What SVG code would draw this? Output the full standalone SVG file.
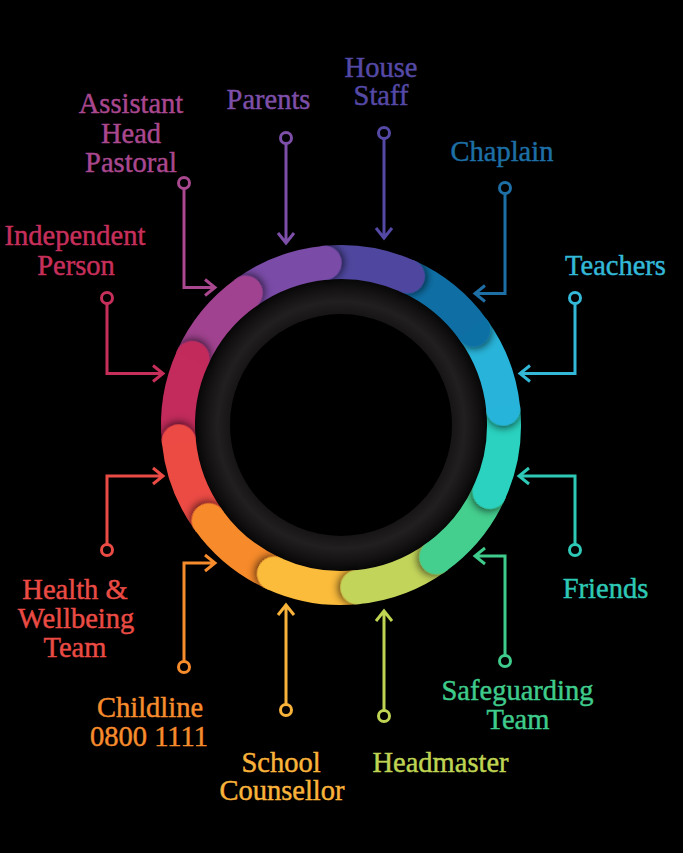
<svg xmlns="http://www.w3.org/2000/svg" xmlns:xlink="http://www.w3.org/1999/xlink" width="683" height="853" viewBox="0 0 683 853">
<style>
text { font-family: "Liberation Serif", "Times New Roman", serif; font-size: 28.5px; text-anchor: middle; stroke-width: 0.45px; }
.conn path { fill: none; stroke-width: 3; stroke-linejoin: miter; }
.band { fill: none; stroke-width: 34; }
.k1 { fill: #5549a6; stroke: #5549a6; }
.k2 { fill: #1d6fa6; stroke: #1d6fa6; }
.k3 { fill: #33b8d8; stroke: #33b8d8; }
.k4 { fill: #2ec9b6; stroke: #2ec9b6; }
.k5 { fill: #3fcb8b; stroke: #3fcb8b; }
.k6 { fill: #bfd452; stroke: #bfd452; }
.k7 { fill: #f9b33a; stroke: #f9b33a; }
.k8 { fill: #f78c2d; stroke: #f78c2d; }
.k9 { fill: #ea4b45; stroke: #ea4b45; }
.k10 { fill: #c72f5b; stroke: #c72f5b; }
.k11 { fill: #a9478f; stroke: #a9478f; }
.k12 { fill: #7d4fa8; stroke: #7d4fa8; }
.conn circle { fill: #000 !important; stroke-width: 3; }
.conn path { fill: none !important; }
</style>
<defs>
<radialGradient id="darkRing" gradientUnits="userSpaceOnUse" cx="341" cy="425" r="147">
<stop offset="0" stop-color="#000"/>
<stop offset="0.75" stop-color="#161414"/>
<stop offset="0.84" stop-color="#211f1f"/>
<stop offset="0.92" stop-color="#151313"/>
<stop offset="1" stop-color="#070606"/>
</radialGradient>
<clipPath id="capClip" clipPathUnits="userSpaceOnUse"><rect x="339" y="222" width="48" height="80"/></clipPath>
<filter id="capShadow" x="-60%" y="-60%" width="220%" height="220%"><feDropShadow dx="2" dy="0" stdDeviation="4" flood-color="#000" flood-opacity="0.7"/></filter>
<g id="cap" clip-path="url(#capClip)"><circle cx="341" cy="262" r="17" filter="url(#capShadow)"/></g>
</defs>
<rect x="0" y="0" width="683" height="853" fill="#000"/>
<g id="ring">
<circle cx="341" cy="425" r="147" fill="url(#darkRing)"/>
<circle cx="341" cy="425" r="111" fill="#000"/>
<path class="band" stroke="#4f479f" d="M324.53,262.83 A163,163 0 0 1 407.83,276.33"/>
<path class="band" stroke="#0f6fa5" d="M407.83,276.33 A163,163 0 0 1 473.21,329.64"/>
<path class="band" stroke="#28b4da" d="M473.21,329.64 A163,163 0 0 1 503.17,408.53"/>
<path class="band" stroke="#2ad2bf" d="M503.17,408.53 A163,163 0 0 1 489.67,491.83"/>
<path class="band" stroke="#44cf8e" d="M489.67,491.83 A163,163 0 0 1 436.36,557.21"/>
<path class="band" stroke="#c3d45a" d="M436.36,557.21 A163,163 0 0 1 357.47,587.17"/>
<path class="band" stroke="#fbbb3b" d="M357.47,587.17 A163,163 0 0 1 274.17,573.67"/>
<path class="band" stroke="#f78a2a" d="M274.17,573.67 A163,163 0 0 1 208.79,520.36"/>
<path class="band" stroke="#ec4b44" d="M208.79,520.36 A163,163 0 0 1 178.83,441.47"/>
<path class="band" stroke="#c22b5b" d="M178.83,441.47 A163,163 0 0 1 192.33,358.17"/>
<path class="band" stroke="#a0428f" d="M192.33,358.17 A163,163 0 0 1 245.64,292.79"/>
<path class="band" stroke="#7a4ba7" d="M245.64,292.79 A163,163 0 0 1 324.53,262.83"/>
<use xlink:href="#cap" href="#cap" fill="#4f479f" transform="rotate(24.2 341 425)"/>
<use xlink:href="#cap" href="#cap" fill="#0f6fa5" transform="rotate(54.2 341 425)"/>
<use xlink:href="#cap" href="#cap" fill="#28b4da" transform="rotate(84.2 341 425)"/>
<use xlink:href="#cap" href="#cap" fill="#2ad2bf" transform="rotate(114.2 341 425)"/>
<use xlink:href="#cap" href="#cap" fill="#44cf8e" transform="rotate(144.2 341 425)"/>
<use xlink:href="#cap" href="#cap" fill="#c3d45a" transform="rotate(174.2 341 425)"/>
<use xlink:href="#cap" href="#cap" fill="#fbbb3b" transform="rotate(204.2 341 425)"/>
<use xlink:href="#cap" href="#cap" fill="#f78a2a" transform="rotate(234.2 341 425)"/>
<use xlink:href="#cap" href="#cap" fill="#ec4b44" transform="rotate(264.2 341 425)"/>
<use xlink:href="#cap" href="#cap" fill="#c22b5b" transform="rotate(294.2 341 425)"/>
<use xlink:href="#cap" href="#cap" fill="#a0428f" transform="rotate(324.2 341 425)"/>
<use xlink:href="#cap" href="#cap" fill="#7a4ba7" transform="rotate(354.2 341 425)"/>
</g>
<g id="connectors" class="conn">
<circle class="k12" cx="286" cy="138" r="5.5"/><path class="k12" d="M286,143.5 V243 M278,233 L286,243 L294,233"/>
<circle class="k1" cx="384" cy="133" r="5.5"/><path class="k1" d="M384,138.5 V238 M376,228 L384,238 L392,228"/>
<circle class="k2" cx="505" cy="188" r="5.5"/><path class="k2" d="M505,193.5 V293.5 H475 M485,285.5 L475,293.5 L485,301.5"/>
<circle class="k3" cx="575" cy="298" r="5.5"/><path class="k3" d="M575,303.5 V373.5 H520 M530,365.5 L520,373.5 L530,381.5"/>
<circle class="k4" cx="575" cy="550" r="5.5"/><path class="k4" d="M575,544.5 V476 H519 M529,468 L519,476 L529,484"/>
<circle class="k5" cx="505" cy="661" r="5.5"/><path class="k5" d="M505,655.5 V556 H475 M485,548 L475,556 L485,564"/>
<circle class="k6" cx="384" cy="716" r="5.5"/><path class="k6" d="M384,710.5 V611 M376,621 L384,611 L392,621"/>
<circle class="k7" cx="286" cy="710" r="5.5"/><path class="k7" d="M286,704.5 V605 M278,615 L286,605 L294,615"/>
<circle class="k8" cx="184" cy="667" r="5.5"/><path class="k8" d="M184,661.5 V563 H215 M205,555 L215,563 L205,571"/>
<circle class="k9" cx="107" cy="550" r="5.5"/><path class="k9" d="M107,544.5 V476 H163 M153,468 L163,476 L153,484"/>
<circle class="k10" cx="107" cy="298" r="5.5"/><path class="k10" d="M107,303.5 V373.5 H163 M153,365.5 L163,373.5 L153,381.5"/>
<circle class="k11" cx="184" cy="183" r="5.5"/><path class="k11" d="M184,188.5 V287.5 H215 M205,279.5 L215,287.5 L205,295.5"/>
</g>
<g id="node-assistant-head-pastoral" class="k11"><text x="131" y="113">Assistant</text><text x="131" y="143">Head</text><text x="131" y="172">Pastoral</text></g>
<g id="node-parents" class="k12"><text x="268.5" y="109">Parents</text></g>
<g id="node-house-staff" class="k1"><text x="381" y="77">House</text><text x="381" y="105">Staff</text></g>
<g id="node-chaplain" class="k2"><text x="502" y="161">Chaplain</text></g>
<g id="node-teachers" class="k3"><text x="615.5" y="275">Teachers</text></g>
<g id="node-friends" class="k4"><text x="605.5" y="598">Friends</text></g>
<g id="node-safeguarding-team" class="k5"><text x="517.5" y="700">Safeguarding</text><text x="518" y="729">Team</text></g>
<g id="node-headmaster" class="k6"><text x="440.5" y="772">Headmaster</text></g>
<g id="node-school-counsellor" class="k7"><text x="281" y="772">School</text><text x="282" y="800">Counsellor</text></g>
<g id="node-childline" class="k8"><text x="150" y="717">Childline</text><text x="149" y="746">0800 1111</text></g>
<g id="node-health-wellbeing-team" class="k9"><text x="75" y="599">Health &amp;</text><text x="76" y="628">Wellbeing</text><text x="75" y="657">Team</text></g>
<g id="node-independent-person" class="k10"><text x="75" y="245">Independent</text><text x="76" y="275">Person</text></g>
</svg>
